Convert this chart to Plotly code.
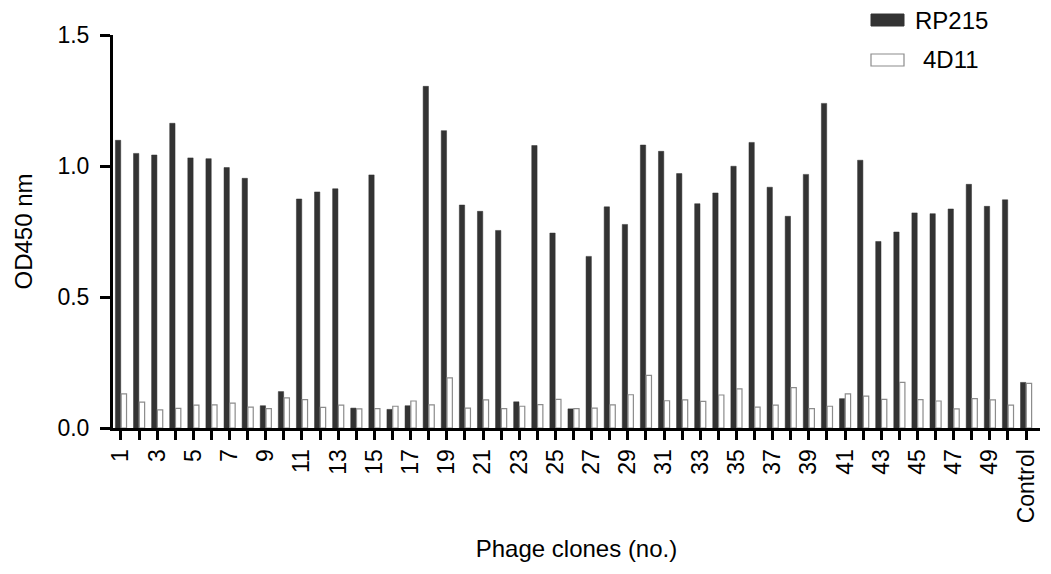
import plotly.graph_objects as go

categories = [str(i) for i in range(1, 51)] + ["Control"]
tick_labels = [c if (c == "Control" or int(c) % 2 == 1) else "" for c in categories]

rp215 = [1.098, 1.048, 1.042, 1.163, 1.031, 1.028, 0.994, 0.953, 0.085, 0.139,
         0.874, 0.901, 0.913, 0.076, 0.966, 0.071, 0.085, 1.304, 1.135, 0.851,
         0.827, 0.754, 0.100, 1.078, 0.744, 0.073, 0.655, 0.844, 0.777, 1.080,
         1.056, 0.971, 0.856, 0.897, 0.999, 1.090, 0.919, 0.808, 0.968, 1.239,
         0.112, 1.022, 0.712, 0.748, 0.821, 0.818, 0.836, 0.930, 0.846, 0.871,
         0.174]
d4d11 = [0.130, 0.099, 0.069, 0.075, 0.087, 0.088, 0.095, 0.080, 0.074, 0.115,
         0.108, 0.079, 0.087, 0.073, 0.074, 0.083, 0.103, 0.088, 0.191, 0.076,
         0.107, 0.074, 0.083, 0.089, 0.109, 0.074, 0.076, 0.088, 0.127, 0.201,
         0.104, 0.107, 0.102, 0.126, 0.149, 0.080, 0.087, 0.154, 0.074, 0.083,
         0.130, 0.122, 0.109, 0.174, 0.108, 0.103, 0.073, 0.112, 0.107, 0.087,
         0.170]

FONT = "Liberation Sans, Arial, sans-serif"
DARK = "#333333"
EDGE = "#8c8c8c"

# plot area on screen (page has an 8px body margin)
PL, PR, PT, PB = 113.0, 1040.0, 35.0, 428.3
PW, PH = PR - PL, PB - PT


def px(x):
    return (x - PL) / PW


def py(y):
    return (PB - y) / PH


fig = go.Figure()
fig.add_trace(go.Bar(x=categories, y=rp215, name="RP215",
                     marker=dict(color=DARK, line=dict(color=DARK, width=0.5)),
                     showlegend=False))
fig.add_trace(go.Bar(x=categories, y=d4d11, name="4D11",
                     marker=dict(color="white", line=dict(color=EDGE, width=1.2)),
                     showlegend=False))

# legend drawn manually (wide swatches as in reference)
fig.add_shape(type="rect", xref="paper", yref="paper",
              x0=px(871), x1=px(904), y0=py(26), y1=py(14),
              fillcolor=DARK, line=dict(color=DARK, width=1))
fig.add_shape(type="rect", xref="paper", yref="paper",
              x0=px(871), x1=px(904), y0=py(66), y1=py(54),
              fillcolor="white", line=dict(color=EDGE, width=1.2))
fig.add_annotation(xref="paper", yref="paper", x=px(913), y=py(20),
                   text="RP215", showarrow=False, xanchor="left", yanchor="middle",
                   font=dict(family=FONT, size=24, color="black"))
fig.add_annotation(xref="paper", yref="paper", x=px(921), y=py(60),
                   text="4D11", showarrow=False, xanchor="left", yanchor="middle",
                   font=dict(family=FONT, size=24, color="black"))

fig.update_layout(
    width=1051, height=574,
    margin=dict(l=PL - 8, r=1051 - PR + 8, t=PT - 8, b=574 - PB + 8, autoexpand=False),
    paper_bgcolor="white", plot_bgcolor="white",
    barmode="group", bargap=0.36, bargroupgap=0.08,
    font=dict(family=FONT, size=23, color="black"),
)
fig.update_xaxes(
    type="category", range=[-0.44, 50.77],
    tickmode="array", tickvals=categories, ticktext=tick_labels,
    tickangle=-90, ticks="outside", ticklen=9, tickwidth=3, tickcolor="black",
    showline=True, linewidth=3, linecolor="black", showgrid=False, zeroline=False,
    tickfont=dict(family=FONT, size=23, color="black"),
    title=dict(text="Phage clones (no.)", standoff=18,
               font=dict(family=FONT, size=24, color="black")),
    automargin=False,
)
fig.update_yaxes(
    range=[0, 1.5], tickvals=[0, 0.5, 1.0, 1.5], ticktext=["0.0", "0.5", "1.0", "1.5"],
    ticks="outside", ticklen=10, tickwidth=3, tickcolor="black",
    showline=True, linewidth=3, linecolor="black", showgrid=False, zeroline=False,
    tickfont=dict(family=FONT, size=23, color="black"),
    ticklabelstandoff=6,
    title=dict(text="OD450 nm", standoff=19,
               font=dict(family=FONT, size=24, color="black")),
    automargin=False,
)

fig.write_html("out.html")
